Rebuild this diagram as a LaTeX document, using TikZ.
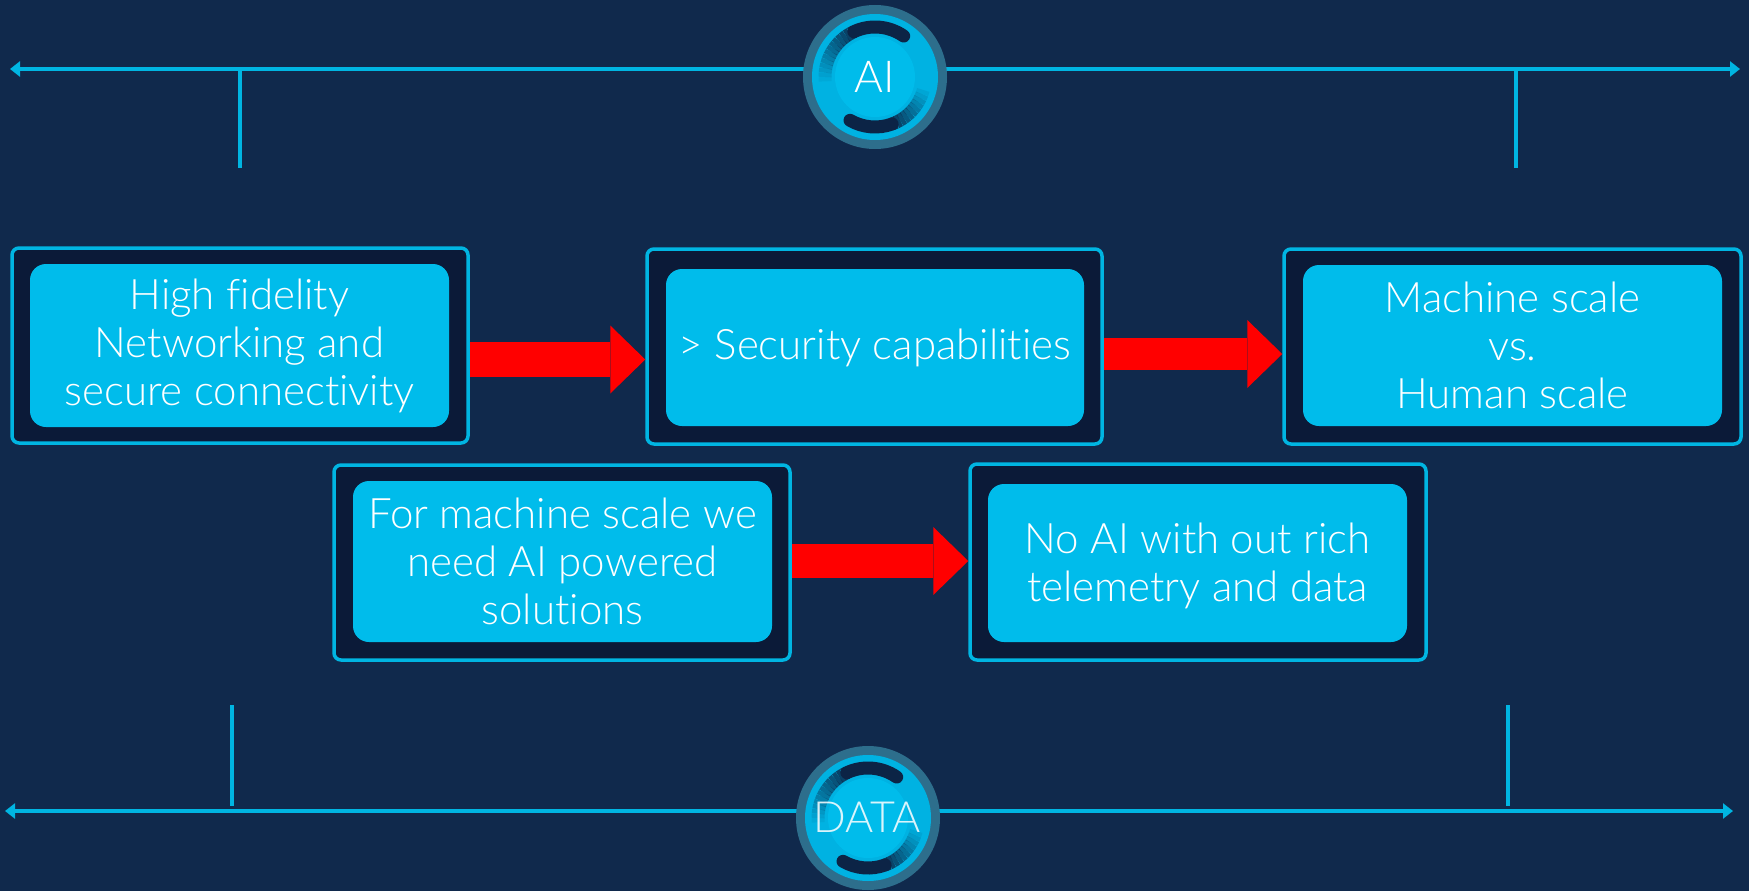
\documentclass[tikz,border=0pt]{standalone}
\usepackage{fontspec}
\IfFontExistsTF{Lato Light}{\setmainfont{Lato Light}[Ligatures={NoCommon}]}{\setmainfont{Lato}[Ligatures={NoCommon}]}
\usetikzlibrary{arrows.meta,calc}
\definecolor{bgblue}{HTML}{10294C}
\definecolor{cyanbox}{HTML}{00BCEB}
\definecolor{cyanline}{HTML}{00B5E2}
\definecolor{darkbox}{HTML}{0B1A38}
\definecolor{ringout}{HTML}{2D6E8C}
\definecolor{ringmid}{HTML}{00B2E2}
\definecolor{arcdark}{HTML}{0C2446}
\definecolor{arrowred}{HTML}{FF0000}
\tikzset{
  outerbox/.style={draw=cyanline, line width=3.5pt, fill=darkbox, rounded corners=7pt, inner sep=0pt},
  innerbox/.style={fill=cyanbox, rounded corners=16pt, inner sep=0pt, text=white, align=center},
  txtbig/.style={font=\fontsize{42}{48}\selectfont},
  axisline/.style={draw=cyanline, line width=4pt, {Triangle[length=10pt,width=15pt]}-{Triangle[length=10pt,width=15pt]}},
  tickline/.style={draw=cyanline, line width=4pt},
  bigarrow/.style={draw=arrowred, line width=#1, -{Triangle[length=35pt,width=68pt,line width=0pt]}},
  hub/.style={circle, fill=cyanbox, minimum size=80pt, inner sep=0pt, text=white},
}
\newcommand{\hubrings}[1]{%
  \fill[ringout] (#1) circle[radius=72];
  \fill[ringmid] (#1) circle[radius=63];
  % top dark arc, solid then fading
  \draw[arcdark, line width=13pt, line cap=round] ($(#1)+(-55:50)$) arc[start angle=-55, end angle=-115, radius=50];
  \foreach \k in {0,...,13}{
    \pgfmathsetmacro{\a}{-115-5*\k}
    \pgfmathsetmacro{\o}{0.85*(1-\k/14)}
    \draw[arcdark, line width=13pt, opacity=\o] ($(#1)+(\a:50)$) arc[start angle=\a, end angle=\a-5, radius=50];
  }
  % bottom dark arc, solid then fading
  \draw[arcdark, line width=13pt, line cap=round] ($(#1)+(-240:50)$) arc[start angle=-240, end angle=-290, radius=50];
  \foreach \k in {0,...,10}{
    \pgfmathsetmacro{\a}{-290-5*\k}
    \pgfmathsetmacro{\o}{0.85*(1-\k/11)}
    \draw[arcdark, line width=13pt, opacity=\o] ($(#1)+(\a:50)$) arc[start angle=\a, end angle=\a-5, radius=50];
  }
}
\begin{document}
\begin{tikzpicture}[x=1pt,y=-1pt]
\useasboundingbox (0,0) rectangle (1749,891);
\fill[bgblue] (0,0) rectangle (1749,891);

% axis lines
\coordinate (tl) at (10,69);
\coordinate (tr) at (1740,69);
\coordinate (bl) at (5,811);
\coordinate (br) at (1733,811);
\draw[axisline] (tl) -- (tr);
\draw[axisline] (bl) -- (br);
\coordinate (t1a) at (240,69); \coordinate (t1b) at (240,168);
\coordinate (t2a) at (1516,69); \coordinate (t2b) at (1516,168);
\coordinate (b1a) at (232,705); \coordinate (b1b) at (232,806);
\coordinate (b2a) at (1508,705); \coordinate (b2b) at (1508,806);
\draw[tickline] (t1a) -- (t1b);
\draw[tickline] (t2a) -- (t2b);
\draw[tickline] (b1a) -- (b1b);
\draw[tickline] (b2a) -- (b2b);

% hubs
\coordinate (aic) at (875,77);
\coordinate (datac) at (868,818);
\hubrings{aic}
\hubrings{datac}
\node[hub, font=\fontsize{44}{44}\selectfont] (ai) at (aic) {AI};
\node[hub] (data) at (datac) {};
\node[text=white, text opacity=0.85, font=\fontsize{43}{43}\selectfont] (datatxt) at (867,817) {DATA};

% boxes row 1
\node[outerbox, minimum width=456pt, minimum height=195pt] (o1) at (240,345.5) {};
\node[innerbox, txtbig, minimum width=419pt, minimum height=163pt] (i1) at (239.5,345.5) {High fidelity\\Networking and\\secure connectivity};
\node[outerbox, minimum width=455pt, minimum height=195pt] (o2) at (874.5,346.5) {};
\node[innerbox, txtbig, minimum width=418pt, minimum height=157pt] (i2) at (875,347.5) {\raisebox{-2pt}{> Security capabilities}};
\node[outerbox, minimum width=457pt, minimum height=195pt] (o3) at (1512.5,346.5) {};
\node[innerbox, txtbig, minimum width=419pt, minimum height=161pt] (i3) at (1512.5,345.5) {Machine scale\\vs.\\Human scale};

% boxes row 2
\node[outerbox, minimum width=456pt, minimum height=195pt] (o4) at (562,562.5) {};
\node[innerbox, txtbig, minimum width=419pt, minimum height=161pt] (i4) at (562.5,561.5) {For machine scale we\\need AI powered\\solutions};
\node[outerbox, minimum width=456pt, minimum height=196pt] (o5) at (1198,562) {};
\node[innerbox, txtbig, minimum width=419pt, minimum height=158pt] (i5) at (1197.5,563) {};
\node[txtbig, text=white, align=center, inner sep=0pt] (t5) at (1197.5,566) {No AI with out rich\\telemetry and data};

% red arrows
\draw[bigarrow=35pt] (o1.east |- 0,359.5) -- (o2.west |- 0,359.5);
\draw[bigarrow=32pt] (o2.east |- 0,354) -- (o3.west |- 0,354);
\draw[bigarrow=34pt] (o4.east |- 0,561) -- (o5.west |- 0,561);
\end{tikzpicture}
\end{document}
